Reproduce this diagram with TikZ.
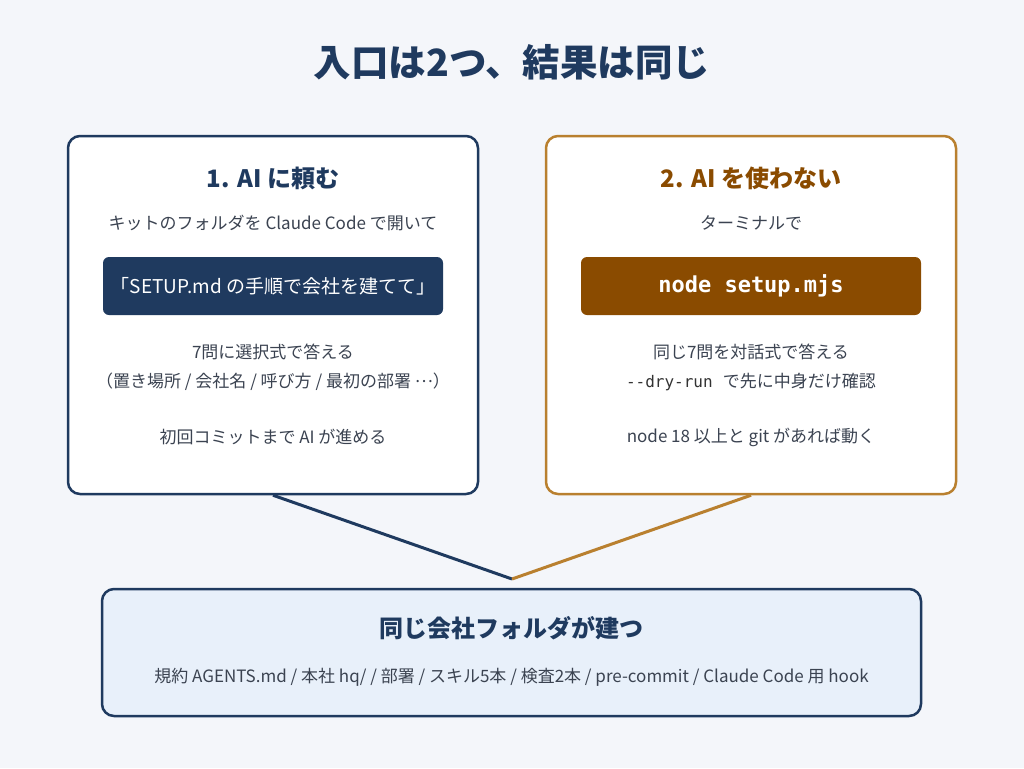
\documentclass[tikz,border=0pt]{standalone}
\usepackage{fontspec}
\setmainfont{Noto Sans CJK JP}
\setmonofont{DejaVu Sans Mono}
\definecolor{navy}{HTML}{1F3A5F}
\definecolor{gold}{HTML}{B9802F}
\definecolor{rust}{HTML}{8A4B00}
\definecolor{ink}{HTML}{3B4351}
\definecolor{paper}{HTML}{F4F6FA}
\definecolor{pale}{HTML}{E8F0FA}

\begin{document}
\begin{tikzpicture}[x=1pt, y=-1pt,
  panel/.style={draw, rounded corners=12pt, line width=2.5pt, fill=white, minimum width=410pt, minimum height=358pt},
  cmd/.style={rounded corners=6pt, minimum width=340pt, minimum height=58pt, text=white},
  head/.style={font=\fontsize{24}{28}\selectfont\bfseries},
  body/.style={text=ink, font=\fontsize{17}{21}\selectfont},
  link/.style={line width=3pt}
]
\useasboundingbox[fill=paper] (0,0) rectangle (1024,768);
\node[text=navy, font=\fontsize{37.5}{44}\selectfont\bfseries] (title) at (512,62) {入口は2つ、結果は同じ};

\node[panel, draw=navy] (ask) at (273,315) {};
\node[head, text=navy] (askhead) at (273,178) {1. AI に頼む};
\node[body] (askopen) at (273,223) {キットのフォルダを Claude Code で開いて};
\node[cmd, fill=navy, font=\fontsize{19}{23}\selectfont] (askcmd) at (273,286) {「SETUP.md の手順で会社を建てて」};
\node[body] (askq) at (273,352) {7問に選択式で答える};
\node[body] (asklist) at (273,382) {（置き場所 / 会社名 / 呼び方 / 最初の部署 \raisebox{0.3em}{…}）};
\node[body] (askdone) at (273,437) {初回コミットまで AI が進める};

\node[panel, draw=gold] (self) at (751,315) {};
\node[head, text=rust] (selfhead) at (751,178) {2. AI を使わない};
\node[body] (selfterm) at (751,223) {ターミナルで};
\node[cmd, fill=rust, font=\fontsize{22}{26}\selectfont\ttfamily\bfseries] (selfcmd) at (751,286) {node setup.mjs};
\node[body] (selfq) at (751,352) {同じ7問を対話式で答える};
\node[body] (selfdry) at (751,382) {{\fontsize{16}{20}\selectfont\color{black!80}\texttt{-{}-dry-run}}\hspace{0.6em}で先に中身だけ確認};
\node[body] (selfreq) at (751,437) {node 18 以上と git があれば動く};

\node[draw=navy, fill=pale, rounded corners=12pt, line width=2.5pt, minimum width=819pt, minimum height=127pt] (result) at (511.5,652.5) {};
\node[head, text=navy] (resulthead) at (511.5,628) {同じ会社フォルダが建つ};
\node[body] (resultlist) at (511.5,677) {規約 AGENTS.md / 本社 hq/ / 部署 / スキル5本 / 検査2本 / pre-commit / Claude Code 用 hook};

\coordinate (join) at (512,579);
\draw[link, draw=navy] (ask.south) -- (join);
\draw[link, draw=gold] (self.south) -- (join);
\end{tikzpicture}
\end{document}
